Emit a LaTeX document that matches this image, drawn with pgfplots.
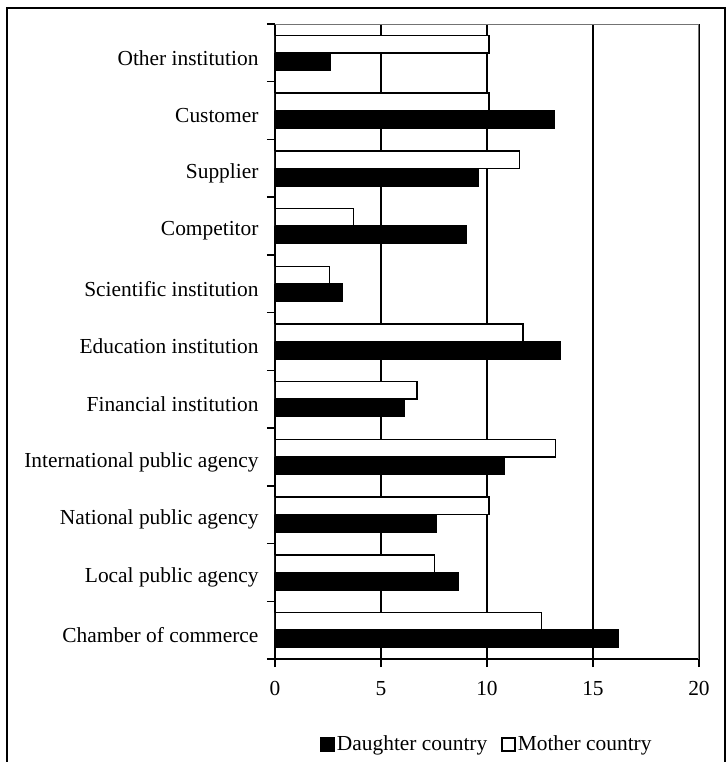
\documentclass[border=0pt]{standalone}
\usepackage{fontspec}
\setmainfont{Liberation Serif}
\usepackage{pgfplots}
\pgfplotsset{compat=1.18}
\begin{document}
\fontsize{10.7}{12.5}\selectfont
\begin{tikzpicture}
\useasboundingbox (0,0) rectangle (363.5pt,381pt);
\draw[line width=1pt] (3.5pt,-5pt) rectangle (362.5pt,377pt);
\begin{axis}[
  at={(137.5pt,51.5pt)}, anchor=south west,
  scale only axis, width=212pt, height=317.5pt,
  xmin=0, xmax=20, ymin=-0.5, ymax=10.5,
  axis x line*=bottom, axis y line*=left,
  axis line style={-, line width=1pt, black},
  xtick={0,5,10,15,20},
  ytick={-0.5,0.5,...,10.5},
  yticklabels={},
  extra y ticks={0,1,2,3,4,5,6,7,8,9,10},
  extra y tick labels={Chamber of commerce,Local public agency,National public agency,International public agency,Financial institution,Education institution,Scientific institution,Competitor,Supplier,Customer,Other institution},
  extra y tick style={major tick length=0pt, tick label style={xshift=-4.5pt, yshift=-2.5pt}},
  major tick length=4pt,
  tick align=outside,
  tick style={black, line width=0.75pt},
  xmajorgrids, grid style={black, line width=0.75pt},
  xbar, bar width=8.75pt,
  tick label style={font=\fontsize{10.7}{12.5}\selectfont},
  xticklabel style={yshift=-3.5pt},
  /pgf/number format/assume math mode=true,
  legend style={draw=none, at={(0.5,-0.135)}, anchor=center, legend columns=2,
    font=\fontsize{10.7}{12.5}\selectfont, nodes={inner xsep=1pt},
    /tikz/every even column/.append style={column sep=6pt}},
  legend image code/.code={\draw[#1, line width=0.75pt] (0pt,-3.25pt) rectangle (6.5pt,3.25pt);},
]
\addplot[fill=black, draw=black, line width=0.75pt, bar shift=-4.375pt] coordinates {
(16.19,0) (8.63,1) (7.59,2) (10.8,3) (6.08,4) (13.44,5) (3.16,6) (9.0,7) (9.59,8) (13.16,9) (2.6,10)};
\addplot[fill=white, draw=black, line width=0.75pt, bar shift=4.375pt] coordinates {
(12.58,0) (7.53,1) (10.1,2) (13.22,3) (6.71,4) (11.71,5) (2.56,6) (3.7,7) (11.54,8) (10.1,9) (10.1,10)};
\legend{Daughter country, Mother country}
\draw[black!55, line width=1pt] (rel axis cs:0,1) -- (rel axis cs:1,1) -- (rel axis cs:1,0);
\end{axis}
\end{tikzpicture}
\end{document}
